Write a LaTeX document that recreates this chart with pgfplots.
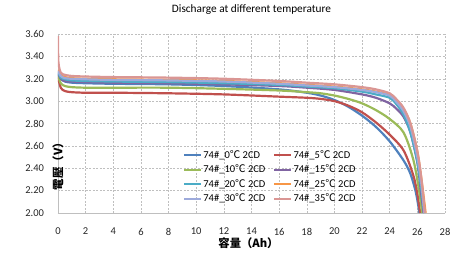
\documentclass[border=0pt]{standalone}
\usepackage{fontspec}
\setmainfont{Carlito}
\newfontfamily\cjk{Noto Sans CJK SC}
\newfontfamily\cjktc{Noto Sans CJK TC}
\usepackage{pgfplots}
\pgfplotsset{compat=1.18}
\definecolor{c0}{HTML}{4F81BD}
\definecolor{c5}{HTML}{C0504D}
\definecolor{c10}{HTML}{9BBB59}
\definecolor{c15}{HTML}{8064A2}
\definecolor{c20}{HTML}{4BACC6}
\definecolor{c25}{HTML}{F79646}
\definecolor{c30}{HTML}{9DAADB}
\definecolor{c35}{HTML}{DA9694}
\definecolor{gridc}{HTML}{BFBFBF}
\newcommand{\dc}{{\cjk ℃}}
\begin{document}
\begin{tikzpicture}
\useasboundingbox (-58pt,-45pt) rectangle (393pt,213pt);
\begin{axis}[
  at={(0pt,0pt)}, anchor=south west,
  width=387pt, height=179pt, scale only axis,
  xmin=0, xmax=28, ymin=2, ymax=3.6,
  xtick={0,2,4,6,8,10,12,14,16,18,20,22,24,26,28},
  ytick={2.0,2.2,2.4,2.6,2.8,3.0,3.2,3.4,3.6},
  yticklabel style={/pgf/number format/fixed, /pgf/number format/fixed zerofill, /pgf/number format/precision=2, xshift=-10.5pt},
  /pgf/number format/assume math mode=true,
  axis x line*=bottom, axis y line*=left,
  axis line style={draw=gridc, line width=0.7pt, -},
  major tick length=0pt,
  grid=major,
  major grid style={draw=gridc, line width=0.5pt, dash pattern=on 2pt off 1.5pt},
  tick label style={font=\fontsize{10.5}{12}\selectfont, text=black!85},
  xticklabel style={yshift=-11.5pt},
  title={Discharge at different temperature},
  title style={at={(axis description cs:0.5,1)}, anchor=center, yshift=18pt, font=\fontsize{11.3}{13}\selectfont},
  xlabel={\cjk\bfseries 容量（Ah）},
  xlabel style={at={(axis description cs:0.5,0)}, anchor=center, yshift=-30pt, xshift=-3pt, font=\fontsize{11.3}{13}\selectfont},
  ylabel={\cjktc\bfseries 電壓（V）},
  ylabel style={at={(axis description cs:0,0.5)}, anchor=center, xshift=-40pt, font=\fontsize{11.5}{13}\selectfont},
  legend columns=2,
  legend cell align=left,
  legend image code/.code={\draw[#1, line width=2.2pt] (0pt,0pt) -- (17pt,0pt);},
  legend style={at={(0.323,0.358)}, anchor=north west, draw=none, fill=none, inner sep=0pt,
    font=\fontsize{10.5}{12}\selectfont,
    nodes={inner sep=1pt, text height=8pt, text depth=2pt},
    row sep=2.5pt,
    /tikz/every even column/.append style={column sep=7pt}},
  every axis plot/.append style={line width=2.2pt, smooth, no markers},
]
\addplot[c0] coordinates {(0,3.24)(0.2,3.20)(0.5,3.175)(1,3.165)(2,3.16)(4,3.155)(8,3.15)(12,3.135)(16,3.105)(18,3.075)(19,3.05)(20,3.01)(21,2.95)(22,2.87)(23,2.77)(24,2.64)(25,2.47)(25.5,2.35)(25.9,2.18)(26.15,2.0)};
\addlegendentry{74\#\_0\dc{} 2CD}
\addplot[c5] coordinates {(0,3.22)(0.2,3.12)(0.5,3.09)(1,3.08)(2,3.075)(4,3.075)(8,3.07)(12,3.06)(16,3.04)(18,3.03)(19,3.02)(20,3.0)(21,2.96)(22,2.90)(23,2.81)(24,2.70)(25,2.56)(25.7,2.34)(26.0,2.17)(26.2,2.0)};
\addlegendentry{74\#\_5\dc{} 2CD}
\addplot[c10] coordinates {(0,3.23)(0.2,3.16)(0.5,3.135)(1,3.125)(2,3.12)(4,3.12)(8,3.12)(12,3.11)(16,3.095)(18,3.08)(19,3.07)(20,3.05)(21,3.02)(22,2.98)(23,2.92)(24,2.84)(25,2.72)(25.7,2.48)(26.1,2.22)(26.35,2.0)};
\addlegendentry{74\#\_10\dc{} 2CD}
\addplot[c15] coordinates {(0,3.25)(0.2,3.20)(0.5,3.18)(1,3.175)(2,3.17)(4,3.165)(8,3.16)(12,3.15)(16,3.135)(18,3.12)(20,3.10)(22,3.06)(23,3.03)(24,2.98)(24.5,2.93)(25,2.86)(25.5,2.72)(26,2.45)(26.25,2.2)(26.45,2.0)};
\addlegendentry{74\#\_15\dc{} 2CD}
\addplot[c20] coordinates {(0,3.26)(0.2,3.21)(0.5,3.195)(1,3.185)(2,3.18)(4,3.175)(8,3.17)(12,3.16)(16,3.145)(18,3.13)(20,3.115)(22,3.085)(23,3.06)(24,3.03)(24.5,2.97)(25,2.88)(25.5,2.72)(26,2.46)(26.3,2.2)(26.5,2.0)};
\addlegendentry{74\#\_20\dc{} 2CD}
\addplot[c25] coordinates {(0,3.28)(0.2,3.235)(0.5,3.215)(1,3.205)(2,3.20)(4,3.195)(8,3.19)(12,3.18)(16,3.16)(18,3.145)(20,3.13)(22,3.105)(23,3.085)(24,3.055)(24.5,3.0)(25,2.93)(25.5,2.80)(26,2.55)(26.3,2.3)(26.6,2.0)};
\addlegendentry{74\#\_25\dc{} 2CD}
\addplot[c30] coordinates {(0,3.27)(0.2,3.225)(0.5,3.205)(1,3.20)(2,3.195)(4,3.19)(8,3.185)(12,3.175)(16,3.155)(18,3.14)(20,3.125)(22,3.10)(23,3.08)(24,3.05)(24.5,2.99)(25,2.91)(25.5,2.77)(26,2.50)(26.3,2.25)(26.5,2.0)};
\addlegendentry{74\#\_30\dc{} 2CD}
\addplot[c35] coordinates {(0,3.58)(0.03,3.35)(0.2,3.255)(0.5,3.235)(1,3.225)(2,3.22)(4,3.215)(8,3.21)(12,3.20)(16,3.18)(18,3.165)(20,3.15)(22,3.125)(23,3.105)(24,3.07)(24.5,3.015)(25,2.94)(25.5,2.80)(26,2.55)(26.3,2.3)(26.55,2.0)};
\addlegendentry{74\#\_35\dc{} 2CD}
\end{axis}
\end{tikzpicture}
\end{document}
